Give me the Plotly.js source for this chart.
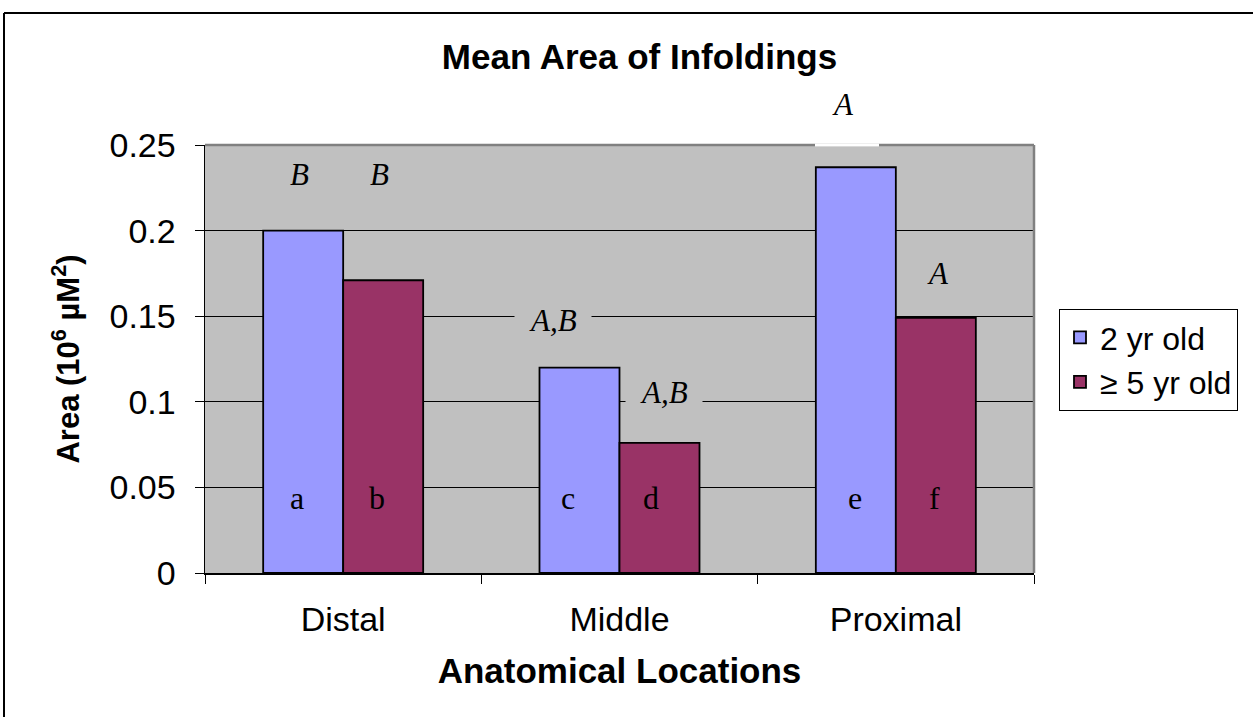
<!DOCTYPE html>
<html>
<head>
<meta charset="utf-8">
<script src="https://cdn.plot.ly/plotly-3.0.1.min.js"></script>
<style>
  html, body { margin: 0; padding: 0; background: #ffffff; }
  #chart { width: 1253px; height: 717px; }
</style>
</head>
<body>
<div id="chart"></div>
<script>
// ---- data ----
const categories = ['Distal', 'Middle', 'Proximal'];
const seriesNames = ['2 yr old', '\u2265 5 yr old'];
const young = [0.2, 0.12, 0.237];
const old = [0.171, 0.076, 0.149];
const groupLetters = [['B', 'B'], ['A,B', 'A,B'], ['A', 'A']];
const barLetters = [['a', 'b'], ['c', 'd'], ['e', 'f']];
const yTicks = [0, 0.05, 0.1, 0.15, 0.2, 0.25];
const yTickText = ['0', '0.05', '0.1', '0.15', '0.2', '0.25'];

// ---- layout helpers ----
const sans = 'Liberation Sans, Arial, sans-serif';
const serif = 'Liberation Serif, Times New Roman, serif';

const traces = [
  { type: 'bar', name: seriesNames[0], x: categories, y: young,
    marker: { color: '#9999FF', line: { color: '#000000', width: 1.8 } }, hoverinfo: 'none' },
  { type: 'bar', name: seriesNames[1], x: categories, y: old,
    marker: { color: '#993366', line: { color: '#000000', width: 1.8 } }, hoverinfo: 'none' }
];

// paper coordinates from pixel positions of the frame
const px2x = px => (px - 205) / 829;
const px2y = py => (573 - py) / 428;

// significance letter placements (layout)
const upperPos = [
  [{ dx: -0.159, y: 0.2325, bg: null }, { dx: 0.130, y: 0.2325, bg: null }],
  [{ dx: -0.241, y: 0.1472, bg: '#C0C0C0' }, { dx: 0.161, y: 0.1057, bg: '#C0C0C0' }],
  [{ dx: -0.192, y: null, py: 104, bg: null }, { dx: 0.152, y: 0.1752, bg: null }]
];
const lowerDx = [[-0.166, 0.123], [-0.186, 0.114], [-0.148, 0.141]];

const annotations = [];
for (let i = 0; i < categories.length; i++) {
  for (let j = 0; j < 2; j++) {
    const p = upperPos[i][j];
    const a = {
      x: i + p.dx, xref: 'x',
      text: groupLetters[i][j], showarrow: false,
      font: { family: serif, size: 31, color: '#000000', style: 'italic' },
      xanchor: 'center', yanchor: 'middle'
    };
    if (p.y === null) { a.y = px2y(p.py); a.yref = 'paper'; }
    else { a.y = p.y; a.yref = 'y'; }
    if (p.bg) {
      a.bgcolor = p.bg;
      a.borderpad = 14;
    }
    annotations.push(a);
    annotations.push({
      x: i + lowerDx[i][j], y: 0.0438, xref: 'x', yref: 'y',
      text: barLetters[i][j], showarrow: false,
      font: { family: serif, size: 32, color: '#000000' },
      xanchor: 'center', yanchor: 'middle'
    });
  }
}

const layout = {
  width: 1253, height: 717,
  margin: { l: 205, r: 219, t: 145, b: 144, pad: 0 },
  paper_bgcolor: '#FFFFFF',
  plot_bgcolor: '#C0C0C0',
  showlegend: true,
  barmode: 'group',
  bargap: 0.421,
  bargroupgap: 0,
  title: {
    text: '<b>Mean Area of Infoldings</b>',
    font: { family: sans, size: 35, color: '#000000' },
    x: 639.5 / 1253, xref: 'container', xanchor: 'center',
    y: 1 - 57 / 717, yref: 'container', yanchor: 'middle'
  },
  xaxis: {
    type: 'category',
    range: [-0.5, 2.5],
    tickson: 'boundaries',
    ticks: 'outside', ticklen: 9, tickwidth: 1, tickcolor: '#000000',
    showline: true, linecolor: '#000000', linewidth: 1.5,
    showgrid: false, zeroline: false,
    tickfont: { family: sans, size: 34, color: '#000000' },
    ticklabelstandoff: 16,
    title: {
      text: '<b>Anatomical Locations</b>',
      font: { family: sans, size: 35, color: '#000000' },
      standoff: 21
    },
    automargin: false,
    fixedrange: true
  },
  yaxis: {
    range: [0, 0.25],
    tickvals: yTicks, ticktext: yTickText,
    ticks: 'outside', ticklen: 9, tickwidth: 1, tickcolor: '#000000',
    showline: true, linecolor: '#000000', linewidth: 1.5,
    showgrid: true, gridcolor: '#000000', gridwidth: 1,
    zeroline: false,
    tickfont: { family: sans, size: 34, color: '#000000' },
    ticklabelstandoff: 12,
    title: {
      text: '<b>Area (10<sup>6</sup> \u00B5M<sup>2</sup>)</b>',
      font: { family: sans, size: 31, color: '#000000' },
      standoff: 20
    },
    automargin: false,
    fixedrange: true
  },
  legend: {
    x: px2x(1059), y: px2y(309), xref: 'paper', yref: 'paper',
    xanchor: 'left', yanchor: 'top',
    bgcolor: '#FFFFFF', bordercolor: '#000000', borderwidth: 1,
    font: { family: sans, size: 32, color: '#000000' },
    tracegroupgap: 0, itemwidth: 30
  },
  shapes: [
    // plot area frame (top and right in gray)
    { type: 'line', xref: 'paper', yref: 'paper', x0: 0, x1: 1, y0: 1, y1: 1,
      line: { color: '#808080', width: 2.5 }, layer: 'above' },
    { type: 'line', xref: 'paper', yref: 'paper', x0: 1, x1: 1, y0: 0, y1: 1,
      line: { color: '#808080', width: 2.5 }, layer: 'above' },
    // white break in the top frame behind the proximal "A"
    { type: 'line', xref: 'paper', yref: 'paper', x0: px2x(815), x1: px2x(879), y0: 1, y1: 1,
      line: { color: '#FFFFFF', width: 3 }, layer: 'above' },
    // outer chart frame
    { type: 'line', xref: 'paper', yref: 'paper', x0: px2x(4), x1: px2x(1260), y0: px2y(13), y1: px2y(13),
      line: { color: '#000000', width: 2 } },
    { type: 'line', xref: 'paper', yref: 'paper', x0: px2x(4), x1: px2x(4), y0: px2y(13), y1: px2y(725),
      line: { color: '#000000', width: 2 } }
  ],
  annotations: annotations
};

Plotly.newPlot('chart', traces, layout, { displayModeBar: false, staticPlot: true });
</script>
</body>
</html>
